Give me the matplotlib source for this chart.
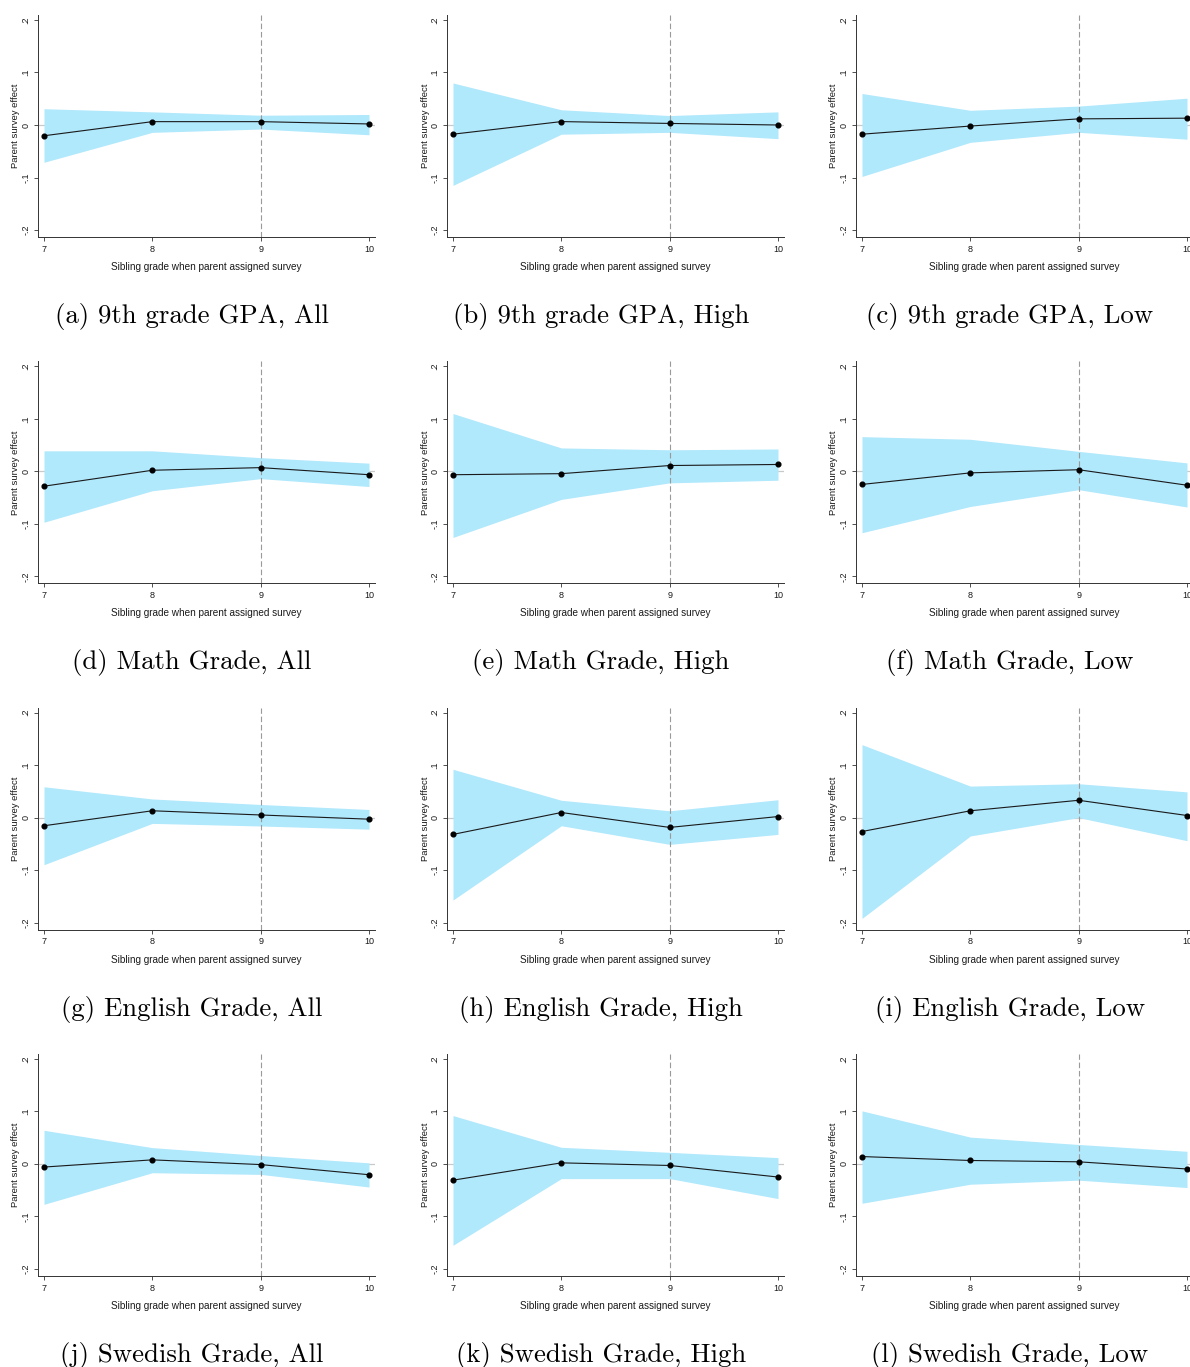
import matplotlib
matplotlib.use("Agg")
import matplotlib.pyplot as plt

# Sibling grade at which the parent was assigned the survey
grades = [7, 8, 9, 10]
xtick_labels = ["7", "8", "9", "10"]
ytick_values = [-0.2, -0.1, 0.0, 0.1, 0.2]
ytick_labels = ["-.2", "-.1", "0", ".1", ".2"]

# Point estimates and 95% confidence bounds, one set per outcome/sample
gpa_all_est = [-0.0205, 0.0064, 0.0064, 0.0020]
gpa_all_lo = [-0.0710, -0.0140, -0.0077, -0.0186]
gpa_all_hi = [0.0310, 0.0250, 0.0186, 0.0200]

gpa_high_est = [-0.0175, 0.0065, 0.0030, 0.0000]
gpa_high_lo = [-0.1150, -0.0175, -0.0140, -0.0260]
gpa_high_hi = [0.0800, 0.0290, 0.0180, 0.0250]

gpa_low_est = [-0.0175, -0.0020, 0.0117, 0.0130]
gpa_low_lo = [-0.0980, -0.0330, -0.0140, -0.0270]
gpa_low_hi = [0.0600, 0.0280, 0.0360, 0.0510]

math_all_est = [-0.0284, 0.0020, 0.0070, -0.0065]
math_all_lo = [-0.0970, -0.0370, -0.0140, -0.0290]
math_all_hi = [0.0390, 0.0390, 0.0260, 0.0155]

math_high_est = [-0.0065, -0.0045, 0.0110, 0.0130]
math_high_lo = [-0.1260, -0.0535, -0.0220, -0.0170]
math_high_hi = [0.1100, 0.0445, 0.0410, 0.0425]

math_low_est = [-0.0250, -0.0030, 0.0030, -0.0265]
math_low_lo = [-0.1170, -0.0670, -0.0350, -0.0680]
math_low_hi = [0.0660, 0.0610, 0.0380, 0.0160]

eng_all_est = [-0.0155, 0.0130, 0.0050, -0.0030]
eng_all_lo = [-0.0897, -0.0110, -0.0160, -0.0220]
eng_all_hi = [0.0587, 0.0355, 0.0250, 0.0155]

eng_high_est = [-0.0320, 0.0097, -0.0187, 0.0020]
eng_high_lo = [-0.1570, -0.0155, -0.0510, -0.0320]
eng_high_hi = [0.0920, 0.0330, 0.0130, 0.0340]

eng_low_est = [-0.0265, 0.0130, 0.0330, 0.0040]
eng_low_lo = [-0.1920, -0.0350, 0.0000, -0.0440]
eng_low_hi = [0.1390, 0.0600, 0.0645, 0.0490]

swe_all_est = [-0.0060, 0.0077, -0.0013, -0.0206]
swe_all_lo = [-0.0770, -0.0168, -0.0200, -0.0440]
swe_all_hi = [0.0640, 0.0310, 0.0160, 0.0020]

swe_high_est = [-0.0310, 0.0020, -0.0030, -0.0250]
swe_high_lo = [-0.1550, -0.0280, -0.0280, -0.0660]
swe_high_hi = [0.0920, 0.0316, 0.0220, 0.0120]

swe_low_est = [0.0140, 0.0065, 0.0040, -0.0097]
swe_low_lo = [-0.0750, -0.0387, -0.0310, -0.0450]
swe_low_hi = [0.1010, 0.0510, 0.0370, 0.0240]

captions = [
    "(a) 9th grade GPA, All", "(b) 9th grade GPA, High", "(c) 9th grade GPA, Low",
    "(d) Math Grade, All", "(e) Math Grade, High", "(f) Math Grade, Low",
    "(g) English Grade, All", "(h) English Grade, High", "(i) English Grade, Low",
    "(j) Swedish Grade, All", "(k) Swedish Grade, High", "(l) Swedish Grade, Low",
]

panels = [
    (gpa_all_est, gpa_all_lo, gpa_all_hi),
    (gpa_high_est, gpa_high_lo, gpa_high_hi),
    (gpa_low_est, gpa_low_lo, gpa_low_hi),
    (math_all_est, math_all_lo, math_all_hi),
    (math_high_est, math_high_lo, math_high_hi),
    (math_low_est, math_low_lo, math_low_hi),
    (eng_all_est, eng_all_lo, eng_all_hi),
    (eng_high_est, eng_high_lo, eng_high_hi),
    (eng_low_est, eng_low_lo, eng_low_hi),
    (swe_all_est, swe_all_lo, swe_all_hi),
    (swe_high_est, swe_high_lo, swe_high_hi),
    (swe_low_est, swe_low_lo, swe_low_hi),
]

FIG_W, FIG_H = 1190, 1367
fig = plt.figure(figsize=(FIG_W / 100, FIG_H / 100), dpi=100)

SANS = "Liberation Sans"
SERIF = "cmr10"
band_color = "#b0e8fc"
ink = "#1a1a1a"

for i, (est, lo, hi) in enumerate(panels):
    r, c = divmod(i, 3)
    left_px = 38 + 409 * c
    right_px = 375 + 409 * c
    top_px = 15 + 346.3 * r
    bot_px = 237 + 346.3 * r
    w_px = right_px - left_px
    h_px = bot_px - top_px
    ax = fig.add_axes([left_px / FIG_W, 1 - bot_px / FIG_H,
                       w_px / FIG_W, h_px / FIG_H])
    ax.set_xlim(6.9446, 10.0554)
    ax.set_ylim(-0.2133, 0.2095)

    ax.axhline(0, color="#c9c9c9", lw=0.9, zorder=0)
    ax.fill_between(grades, lo, hi, color=band_color, lw=0, zorder=1)
    ax.axvline(9, color="#9a9a9a", lw=0.8, ls=(0, (5, 2.5)), zorder=2)
    ax.plot(grades, est, color=ink, lw=0.8, marker="o", ms=3.4,
            mfc="black", mec="black", zorder=3)

    for side in ("top", "right"):
        ax.spines[side].set_visible(False)
    for side in ("left", "bottom"):
        ax.spines[side].set_color("#333333")
        ax.spines[side].set_linewidth(0.7)

    ax.set_xticks(grades)
    ax.set_xticklabels(xtick_labels, fontfamily=SANS, fontsize=6.5, color=ink)
    ax.set_yticks(ytick_values)
    ax.set_yticklabels(ytick_labels, fontfamily=SANS, fontsize=6.5, color=ink,
                       rotation=90, va="center")
    ax.tick_params(axis="both", length=3, width=0.6, color="#333333", pad=2.5)

    ax.set_xlabel("Sibling grade when parent assigned survey",
                  fontfamily=SANS, fontsize=7.2, color=ink, va="center")
    ax.xaxis.set_label_coords(0.5, -(267 - 237) / h_px)
    ax.set_ylabel("Parent survey effect", fontfamily=SANS, fontsize=6.8,
                  color=ink, va="center")
    ax.yaxis.set_label_coords(-(38 - 16) / w_px, 0.5)

    cx = (192 + 409 * c) / FIG_W
    cy = 1 - (323 + 346.3 * r) / FIG_H
    fig.text(cx, cy, captions[i], ha="center", va="baseline",
             fontfamily=SERIF, fontsize=19.3, color="black")

fig.savefig("out.png", dpi=100, facecolor="white")
